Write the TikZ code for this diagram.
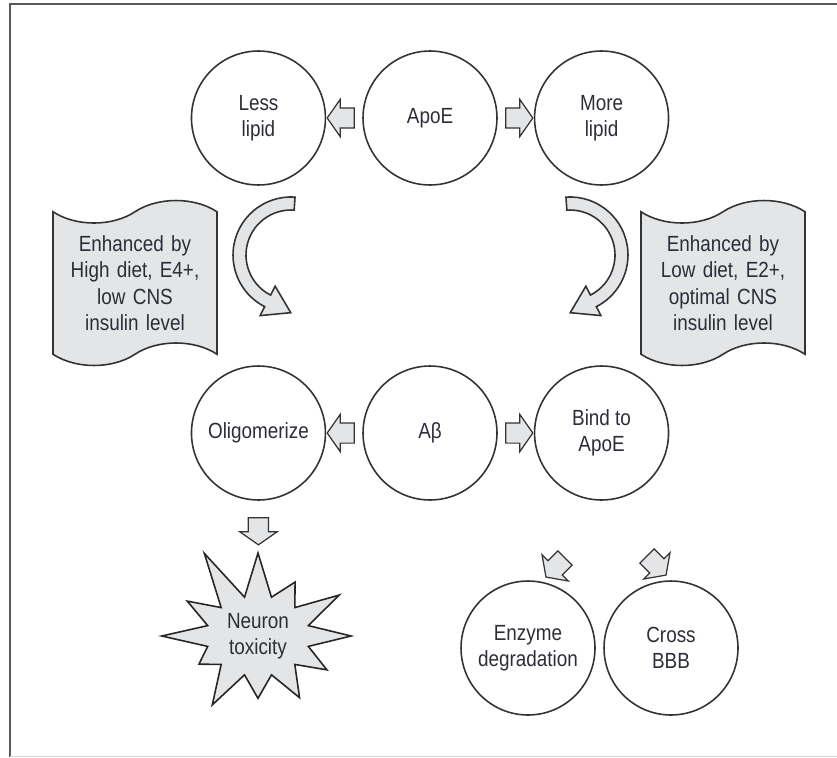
\documentclass[tikz,border=0pt]{standalone}
\usepackage{fontspec}
\setmainfont{Liberation Sans}[FakeStretch=0.86]
\usetikzlibrary{shapes.geometric, shapes.symbols, shapes.arrows, positioning, calc}

\definecolor{inkgray}{RGB}{45,45,58}
\definecolor{shadegray}{RGB}{228,229,231}

\begin{document}
\begin{tikzpicture}[
    x=0.02cm, y=0.02cm,
    bubble/.style={
        circle,
        draw=black!80,
        line width=0.9pt,
        minimum size=2.68cm,
        inner sep=0pt,
        align=center,
        text=inkgray,
        font=\fontsize{12.5}{14.5}\selectfont
    },
    blockarrow/.style={
        single arrow,
        draw=black!80,
        line width=0.7pt,
        fill=shadegray,
        minimum height=0.54cm,
        inner xsep=0pt,
        inner ysep=0.19cm,
        single arrow head extend=0.17cm,
        single arrow tip angle=110
    },
    scroll/.style={
        tape,
        draw=black!80,
        line width=0.9pt,
        fill=shadegray,
        tape bend top=in and out,
        tape bend bottom=in and out,
        tape bend height=0.45cm,
        minimum width=3.28cm,
        minimum height=3.3cm,
        text width=3cm,
        align=center,
        text=inkgray,
        font=\fontsize{12.5}{15}\selectfont
    },
    burst/.style={
        starburst,
        starburst points=12,
        starburst point height=1.15cm,
        random starburst=11,
        draw=black!85,
        line width=0.9pt,
        fill=shadegray,
        minimum width=3.9cm,
        minimum height=3.8cm,
        align=center,
        text=inkgray,
        font=\fontsize{12.5}{14.5}\selectfont
    },
    bendarrow/.style={draw=black!80, line width=0.9pt, fill=shadegray}
]

    \useasboundingbox (0,0) rectangle (837,-757);

    % frame
    \draw[black!65, line width=1.2pt] (10,-757) -- (10,-4) -- (837,-4);
    \draw[black!15, line width=0.5pt] (10,-756) -- (837,-756);

    % top row
    \node (apoe) [bubble] at (430,-118) {ApoE};
    \node (less) [bubble, left=0.72cm of apoe] {Less\\lipid};
    \node (more) [bubble, right=0.72cm of apoe] {More\\lipid};
    \node (toless) [blockarrow, rotate=180] at ($(less.east)!0.5!(apoe.west)$) {};
    \node (tomore) [blockarrow] at ($(apoe.east)!0.5!(more.west)$) {};

    % side notes
    \node (highnote) [scroll] at (135,-283) {Enhanced by\\High diet, E4+,\\low CNS\\insulin level};
    \node (lownote) [scroll] at (723,-283) {Enhanced by\\Low diet, E2+,\\optimal CNS\\insulin level};

    % bent arrows
    \coordinate (lbend) at (291,-255);
    \coordinate (rbend) at (570,-255);
    \draw[bendarrow] ($(lbend)+(86:58)$) arc[start angle=86, end angle=243, radius=1.16cm]
        -- ($(lbend)+(243:68)$) -- ($(lbend)+(243:51.5)+(333:26)$) -- ($(lbend)+(243:35)$)
        -- ($(lbend)+(243:45)$) arc[start angle=243, end angle=86, radius=0.9cm] -- cycle;
    \draw[bendarrow] ($(rbend)+(94:58)$) arc[start angle=94, end angle=-63, radius=1.16cm]
        -- ($(rbend)+(-63:68)$) -- ($(rbend)+(-63:51.5)+(-153:26)$) -- ($(rbend)+(-63:35)$)
        -- ($(rbend)+(-63:45)$) arc[start angle=-63, end angle=94, radius=0.9cm] -- cycle;

    % middle row
    \node (abeta) [bubble] at (430,-433) {Aβ};
    \node (olig) [bubble, left=0.72cm of abeta] {Oligomerize};
    \node (bind) [bubble, right=0.72cm of abeta] {Bind to\\ApoE};
    \node (toolig) [blockarrow, rotate=180] at ($(olig.east)!0.5!(abeta.west)$) {};
    \node (tobind) [blockarrow] at ($(abeta.east)!0.5!(bind.west)$) {};

    % toxicity branch
    \node (todown) [blockarrow, rotate=-90] at ($(olig.south)+(0,-27)$) {};
    \node (toxic) [burst] at (258,-636) {Neuron\\toxicity};

    % clearance branch
    \node (toenz) [blockarrow, rotate=225] at (558,-565) {};
    \node (tobbb) [blockarrow, rotate=-45] at (654,-563) {};
    \node (enzyme) [bubble] at (528,-648) {Enzyme\\degradation};
    \node (cross) [bubble] at (671,-648) {Cross\\BBB};

\end{tikzpicture}
\end{document}
